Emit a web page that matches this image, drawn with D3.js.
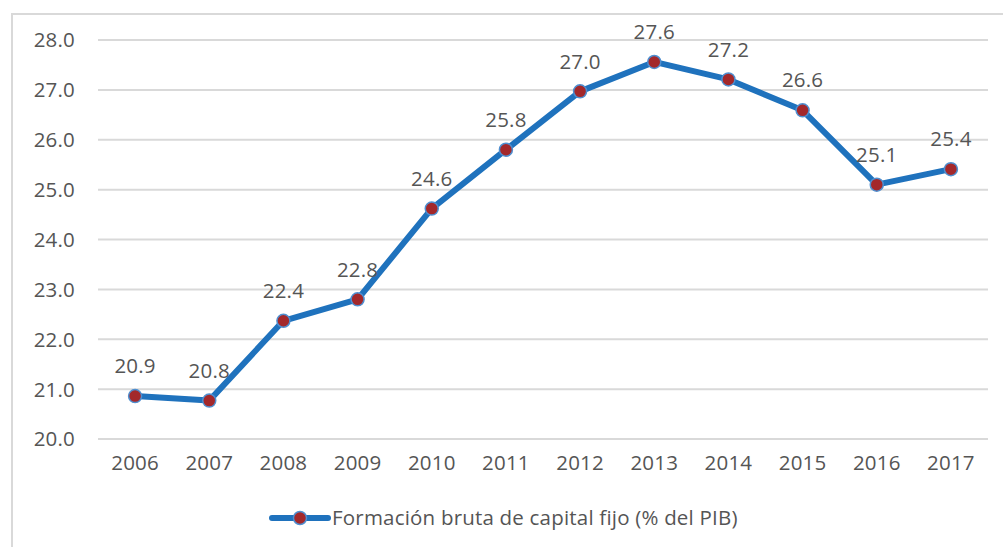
<!DOCTYPE html>
<html>
<head>
<meta charset="utf-8">
<script src="https://cdn.jsdelivr.net/npm/d3@7"></script>
<style>
  body { margin: 0; background: #fff; }
  text { font-family: "Open Sans", sans-serif; fill: #555; letter-spacing: 0.2px; }
</style>
</head>
<body>
<div id="chart"></div>
<script>
  // data
  var years = ["2006", "2007", "2008", "2009", "2010", "2011", "2012", "2013", "2014", "2015", "2016", "2017"];
  var fbcf = [20.86, 20.77, 22.37, 22.8, 24.62, 25.8, 26.97, 27.56, 27.21, 26.59, 25.1, 25.41];
  var yTicks = [20, 21, 22, 23, 24, 25, 26, 27, 28];
  var serieName = "Formación bruta de capital fijo (% del PIB)";

  var W = 1003, H = 547;
  var fs = "20.5px";
  var svg = d3.select("#chart")
    .append("svg")
    .attr("width", W)
    .attr("height", H);

  // chart frame
  svg.append("rect")
    .attr("x", 12)
    .attr("y", 14)
    .attr("width", W)
    .attr("height", H)
    .style("fill", "none")
    .style("stroke", "#d9d9d9")
    .style("stroke-width", 2);

  var x = d3.scaleBand().domain(years).range([98, 988]);
  var y = d3.scaleLinear().domain([20, 28]).range([439, 40]);

  // gridlines
  svg.append("g")
    .selectAll("line")
    .data(yTicks)
    .enter()
    .append("line")
    .attr("x1", 98)
    .attr("x2", 988)
    .attr("y1", function(d){ return y(d); })
    .attr("y2", function(d){ return y(d); })
    .style("stroke", "#d9d9d9")
    .style("stroke-width", 2);

  // y axis labels
  var yAxis = svg.append("g")
    .attr("transform", "translate(75,0)")
    .call(d3.axisLeft(y).tickValues(yTicks).tickFormat(d3.format(".1f")).tickSize(0));
  yAxis.select(".domain").remove();
  yAxis.selectAll("text")
    .style("font-size", fs)
    .attr("x", 0)
    .attr("dy", "0.34em");

  // x axis labels
  var xAxis = svg.append("g")
    .attr("transform", "translate(0,452)")
    .call(d3.axisBottom(x).tickSize(0));
  xAxis.select(".domain").remove();
  xAxis.selectAll("text")
    .style("font-size", fs)
    .attr("dy", "0.71em");

  var cx = function(d, i){ return x(years[i]) + x.bandwidth() / 2; };

  var line = d3.line()
    .x(cx)
    .y(function(d){ return y(d); });

  svg.append("path")
    .datum(fbcf)
    .attr("d", line)
    .style("fill", "none")
    .style("stroke", "#1f72bd")
    .style("stroke-width", 6)
    .style("stroke-linejoin", "round")
    .style("stroke-linecap", "round");

  svg.append("g")
    .selectAll("circle")
    .data(fbcf)
    .enter()
    .append("circle")
    .attr("cx", cx)
    .attr("cy", function(d){ return y(d); })
    .attr("r", 6.5)
    .style("fill", "#a3282b")
    .style("stroke", "#4f8fd0")
    .style("stroke-width", 1.5);

  // data labels
  svg.append("g")
    .selectAll("text")
    .data(fbcf)
    .enter()
    .append("text")
    .attr("x", cx)
    .attr("y", function(d){ return y(d) - 30; })
    .attr("text-anchor", "middle")
    .attr("dy", "0.35em")
    .style("font-size", fs)
    .text(function(d){ return d3.format(".1f")(d); });

  // legend
  var lg = svg.append("g").attr("transform", "translate(272,518)");
  lg.append("line")
    .attr("x1", 0).attr("x2", 56)
    .attr("y1", 0).attr("y2", 0)
    .style("stroke", "#1f72bd")
    .style("stroke-width", 6)
    .style("stroke-linecap", "round");
  lg.append("circle")
    .attr("cx", 28).attr("cy", 0).attr("r", 6.5)
    .style("fill", "#a3282b")
    .style("stroke", "#4f8fd0")
    .style("stroke-width", 1.5);
  lg.append("text")
    .attr("x", 60)
    .attr("dy", "0.35em")
    .style("font-size", fs)
    .text(serieName);
</script>
</body>
</html>
